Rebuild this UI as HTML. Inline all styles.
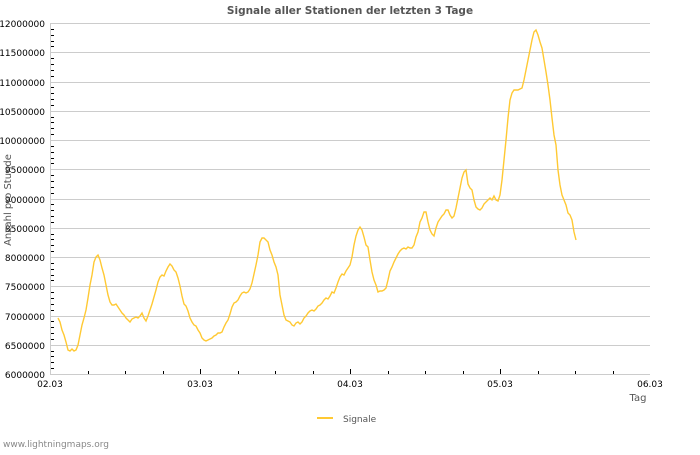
<!DOCTYPE html>
<html><head><meta charset="utf-8"><style>
body{margin:0;background:#fff;width:700px;height:450px;overflow:hidden}
text{font-family:"DejaVu Sans","Liberation Sans",sans-serif}
</style></head><body>
<svg width="700" height="450" xmlns="http://www.w3.org/2000/svg">
<text x="350" y="14" text-anchor="middle" font-size="10.5" font-weight="bold" fill="#555">Signale aller Stationen der letzten 3 Tage</text>
<g stroke="#ccc" stroke-width="1">
<line x1="50" y1="23.5" x2="650" y2="23.5"/><line x1="50" y1="52.5" x2="650" y2="52.5"/>
<line x1="50" y1="82.5" x2="650" y2="82.5"/><line x1="50" y1="111.5" x2="650" y2="111.5"/>
<line x1="50" y1="140.5" x2="650" y2="140.5"/><line x1="50" y1="169.5" x2="650" y2="169.5"/>
<line x1="50" y1="199.5" x2="650" y2="199.5"/><line x1="50" y1="228.5" x2="650" y2="228.5"/>
<line x1="50" y1="257.5" x2="650" y2="257.5"/><line x1="50" y1="286.5" x2="650" y2="286.5"/>
<line x1="50" y1="316.5" x2="650" y2="316.5"/><line x1="50" y1="345.5" x2="650" y2="345.5"/>
<line x1="50" y1="374.5" x2="650" y2="374.5"/>
<line x1="50.5" y1="23" x2="50.5" y2="375"/>
</g>
<path stroke="#000" stroke-width="1" fill="none" d="M51 368.5h3M51 362.5h3M51 356.5h3M51 351.5h3M51 339.5h3M51 333.5h3M51 327.5h3M51 321.5h3M51 310.5h3M51 304.5h3M51 298.5h3M51 292.5h3M51 280.5h3M51 275.5h3M51 269.5h3M51 263.5h3M51 251.5h3M51 245.5h3M51 239.5h3M51 234.5h3M51 222.5h3M51 216.5h3M51 210.5h3M51 204.5h3M51 193.5h3M51 187.5h3M51 181.5h3M51 175.5h3M51 163.5h3M51 158.5h3M51 152.5h3M51 146.5h3M51 134.5h3M51 128.5h3M51 122.5h3M51 117.5h3M51 105.5h3M51 99.5h3M51 93.5h3M51 87.5h3M51 76.5h3M51 70.5h3M51 64.5h3M51 58.5h3M51 46.5h3M51 41.5h3M51 35.5h3M51 29.5h3
M88.5 374v-3M125.5 374v-3M163.5 374v-3M200.5 374v-5M238.5 374v-3M275.5 374v-3M313.5 374v-3M350.5 374v-5M388.5 374v-3M425.5 374v-3M463.5 374v-3M500.5 374v-5M538.5 374v-3M575.5 374v-3M613.5 374v-3"/>
<g font-size="9" fill="#000" text-anchor="end">
<text x="45" y="27">12000000</text><text x="45" y="56">11500000</text><text x="45" y="86">11000000</text>
<text x="45" y="115">10500000</text><text x="45" y="144">10000000</text><text x="45" y="173">9500000</text>
<text x="45" y="203">9000000</text><text x="45" y="232">8500000</text><text x="45" y="261">8000000</text>
<text x="45" y="290">7500000</text><text x="45" y="320">7000000</text><text x="45" y="349">6500000</text>
<text x="45" y="378">6000000</text>
</g>
<g font-size="9" fill="#000" text-anchor="middle">
<text x="50" y="387">02.03</text><text x="200" y="387">03.03</text><text x="350" y="387">04.03</text>
<text x="500" y="387">05.03</text><text x="650" y="387">06.03</text>
</g>
<text x="638" y="401" font-size="10" fill="#555" text-anchor="middle">Tag</text>
<text transform="translate(11,200) rotate(-90)" font-size="10" fill="#555" text-anchor="middle">Anzahl pro Stunde</text>
<polyline fill="none" stroke="#ffc933" stroke-width="1.4" points="58,318 60,322 62,330 64,335 66,342 68,350 70,351 72,349 74,351 76,350 78,345 80,335 82,325 84,318 86,310 88,298 90,285 92,275 94,262 96,257 98,255 100,260 102,268 104,275 106,285 108,295 110,302 112,305 114,305 116,304 118,307 120,310 122,313 124,315 126,318 128,320 130,322 132,319 134,318 136,317 138,318 140,316 142,313 144,318 146,321 148,316 150,310 152,304 154,297 156,290 158,282 160,277 162,275 164,276 166,271 168,267 170,264 172,266 174,270 176,272 178,278 180,286 182,296 184,304 186,306 188,311 190,318 192,322 194,325 196,326 198,330 200,333 202,338 204,340 206,341 208,340 210,339 212,338 214,336 216,335 218,333 220,333 222,332 224,327 226,323 228,320 230,314 232,307 234,303 236,302 238,300 240,296 242,293 244,292 246,293 248,292 250,289 252,283 254,274 256,265 258,255 260,242 262,238 264,238 266,240 268,242 270,250 272,255 274,262 276,267 278,275 280,295 282,305 284,315 286,320 288,321 290,322 292,325 294,326 296,323 298,322 300,324 302,322 304,318 306,316 308,313 310,311 312,310 314,311 316,309 318,306 320,305 322,303 324,300 326,298 328,299 330,296 332,292 334,293 336,288 338,282 340,277 342,274 344,275 346,271 348,268 350,265 352,257 354,245 356,236 358,230 360,227 362,230 364,237 366,245 368,247 370,260 372,272 374,280 376,285 378,292 380,291 382,291 384,290 386,288 388,280 390,271 392,267 394,262 396,258 398,254 400,251 402,249 404,248 406,249 408,247 410,248 412,248 414,245 416,237 418,232 420,222 422,218 424,212 426,212 428,222 430,230 432,234 434,236 436,228 438,222 440,219 442,216 444,214 446,210 448,210 450,215 452,218 454,216 456,208 458,198 460,188 462,178 464,172 466,170 468,184 470,188 472,190 474,200 476,207 478,209 480,210 482,208 484,204 486,202 488,200 490,198 492,200 494,196 496,200 498,201 500,195 502,180 504,160 506,140 508,118 510,100 512,93 514,90 516,90 518,90 520,89 522,88 524,80 526,70 528,60 530,50 532,40 534,32 536,30 538,35 540,42 542,48 544,60 546,72 548,85 550,100 552,118 554,135 556,145 558,170 560,185 562,195 564,200 566,205 568,213 570,215 572,220 574,232 576,240"/>
<line x1="317" y1="418" x2="333" y2="418" stroke="#ffc933" stroke-width="2"/>
<text x="343" y="422" font-size="9" fill="#555">Signale</text>
<text x="3" y="447" font-size="9" fill="#888">www.lightningmaps.org</text>
</svg>
</body></html>
